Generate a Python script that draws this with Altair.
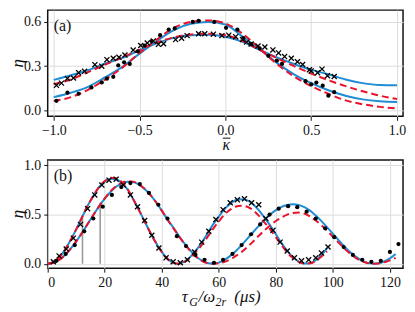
import altair as alt
import pandas as pd

# ---------------- panel (a) ----------------
a_x = [-1.0, -0.9, -0.8, -0.7, -0.6, -0.5, -0.4, -0.3, -0.2, -0.1, 0.0,
       0.1, 0.2, 0.3, 0.4, 0.5, 0.6, 0.7, 0.8, 0.9, 1.0]
a_blue_dots = [0.09, 0.12, 0.16, 0.225, 0.295, 0.385, 0.47, 0.545, 0.587, 0.599, 0.582,
               0.50, 0.415, 0.322, 0.245, 0.185, 0.137, 0.10, 0.075, 0.062, 0.057]
a_red_dots = [0.063, 0.09, 0.14, 0.21, 0.29, 0.39, 0.48, 0.56, 0.60, 0.61, 0.59,
              0.52, 0.42, 0.315, 0.23, 0.165, 0.113, 0.068, 0.042, 0.024, 0.013]
a_blue_cross = [0.207, 0.238, 0.272, 0.318, 0.356, 0.408, 0.455, 0.492, 0.51, 0.513, 0.50,
                0.465, 0.41, 0.36, 0.315, 0.275, 0.245, 0.21, 0.185, 0.172, 0.17]
a_red_cross = [0.178, 0.21, 0.26, 0.31, 0.36, 0.41, 0.46, 0.495, 0.515, 0.52, 0.51,
               0.47, 0.41, 0.355, 0.30, 0.25, 0.205, 0.165, 0.13, 0.10, 0.077]

a_dot_x = [-0.984, -0.92, -0.855, -0.78, -0.72, -0.69, -0.653, -0.624, -0.59, -0.557,
           -0.51, -0.47, -0.43, -0.38, -0.33, -0.295, -0.19, -0.156, -0.065, 0.004,
           0.07, 0.104, 0.15, 0.2, 0.25, 0.30, 0.33, 0.467, 0.50, 0.53, 0.567, 0.60, 0.634]
a_dot_y = [0.065, 0.12, 0.113, 0.156, 0.19, 0.215, 0.228, 0.305, 0.326, 0.315,
           0.40, 0.44, 0.47, 0.51, 0.548, 0.556, 0.60, 0.607, 0.60, 0.56,
           0.548, 0.49, 0.45, 0.42, 0.37, 0.337, 0.315, 0.198, 0.176, 0.189, 0.168, 0.10, 0.124]
a_cross_x = [-0.984, -0.955, -0.92, -0.885, -0.855, -0.82, -0.76, -0.72, -0.69, -0.653,
             -0.62, -0.585, -0.537, -0.493, -0.455, -0.42, -0.39, -0.36, -0.29, -0.255,
             -0.223, -0.156, -0.12, -0.07, -0.02, 0.02, 0.06, 0.10, 0.124, 0.15,
             0.19, 0.23, 0.277, 0.31, 0.345, 0.384, 0.42, 0.45, 0.49, 0.50,
             0.537, 0.563, 0.595, 0.634]
a_cross_y = [0.17, 0.185, 0.217, 0.22, 0.256, 0.265, 0.31, 0.30, 0.344, 0.354,
             0.36, 0.376, 0.409, 0.44, 0.457, 0.47, 0.448, 0.452, 0.48, 0.49,
             0.507, 0.52, 0.52, 0.517, 0.507, 0.51, 0.50, 0.48, 0.463, 0.45,
             0.437, 0.43, 0.41, 0.39, 0.365, 0.354, 0.33, 0.311, 0.276, 0.268,
             0.256, 0.28, 0.235, 0.23]

# ---------------- panel (b) ----------------
b_t_cross = [0, 2, 4, 6, 8, 10, 12, 14, 16, 18, 20, 22, 24, 26, 28, 30, 32, 34, 36, 38,
             40, 42, 44, 46, 48, 50, 52, 54, 56, 58, 60, 62, 64, 66, 68, 70, 72, 74, 76, 78,
             80, 82, 84, 86, 88, 90, 92, 94, 96, 98]
b_blue_cross = [0.0, 0.016, 0.064, 0.14, 0.24, 0.35, 0.47, 0.59, 0.69, 0.78, 0.835, 0.865, 0.86,
                0.82, 0.755, 0.655, 0.545, 0.43, 0.315, 0.21, 0.12, 0.05, 0.01, 0.0, 0.025,
                0.07, 0.135, 0.215, 0.305, 0.40, 0.48, 0.555, 0.61, 0.648, 0.657, 0.645, 0.605,
                0.545, 0.47, 0.39, 0.30, 0.21, 0.13, 0.065, 0.022, 0.002, 0.005, 0.035, 0.09, 0.16]
b_red_cross = [0.0, 0.016, 0.064, 0.14, 0.24, 0.35, 0.47, 0.59, 0.69, 0.78, 0.84, 0.875, 0.87,
               0.83, 0.76, 0.655, 0.545, 0.43, 0.315, 0.21, 0.12, 0.05, 0.01, 0.0, 0.02,
               0.06, 0.12, 0.19, 0.27, 0.355, 0.43, 0.50, 0.55, 0.583, 0.59, 0.58, 0.545,
               0.49, 0.42, 0.35, 0.27, 0.19, 0.115, 0.058, 0.02, 0.002, 0.004, 0.03, 0.075, 0.125]
b_t_dots = [0, 2, 4, 6, 8, 10, 12, 14, 16, 18, 20, 22, 24, 26, 28, 30, 32, 34, 36, 38,
            40, 42, 44, 46, 48, 50, 52, 54, 56, 58, 60, 62, 64, 66, 68, 70, 72, 74, 76, 78,
            80, 82, 84, 86, 88, 90, 92, 94, 96, 98, 100, 102, 104, 106, 108, 110, 112, 114,
            116, 118, 120, 122]
b_blue_dots = [0.0, 0.01, 0.04, 0.087, 0.151, 0.228, 0.313, 0.404, 0.495, 0.583, 0.662, 0.73,
               0.783, 0.818, 0.834, 0.83, 0.805, 0.76, 0.70, 0.625, 0.54, 0.45, 0.37, 0.285,
               0.205, 0.135, 0.075, 0.033, 0.008, 0.0, 0.012, 0.04, 0.08, 0.13, 0.19, 0.255,
               0.32, 0.385, 0.445, 0.50, 0.545, 0.578, 0.598, 0.605, 0.597, 0.575, 0.54, 0.49,
               0.433, 0.37, 0.305, 0.24, 0.177, 0.12, 0.072, 0.035, 0.011, 0.001, 0.005, 0.023,
               0.055, 0.10]
b_red_dots = [0.0, 0.01, 0.04, 0.087, 0.151, 0.228, 0.313, 0.404, 0.495, 0.583, 0.665, 0.735,
              0.788, 0.823, 0.84, 0.835, 0.808, 0.762, 0.70, 0.625, 0.54, 0.45, 0.365, 0.28,
              0.2, 0.13, 0.07, 0.03, 0.007, 0.0, 0.005, 0.02, 0.045, 0.08, 0.12, 0.17,
              0.225, 0.285, 0.34, 0.39, 0.435, 0.47, 0.50, 0.515, 0.52, 0.51, 0.48, 0.44,
              0.39, 0.335, 0.275, 0.215, 0.155, 0.105, 0.06, 0.028, 0.008, 0.0, 0.003, 0.015,
              0.035, 0.06]

b_cross_t = [2, 4, 6.5, 9, 11.5, 14, 16.5, 19, 21.5, 24, 26.5, 29, 31.5, 34, 36.5, 39,
             41.5, 44, 46.5, 49, 51.5, 54, 56.5, 59, 61.5, 64, 66.5, 69, 71.5, 74, 76.5,
             79, 81.5, 84, 86.5, 89, 91.5, 94, 96, 98.3]
b_cross_y = [0.02, 0.08, 0.15, 0.26, 0.40, 0.56, 0.70, 0.80, 0.85, 0.86, 0.80, 0.70, 0.58,
             0.44, 0.29, 0.16, 0.06, 0.02, 0.01, 0.04, 0.12, 0.22, 0.33, 0.45, 0.55, 0.62,
             0.65, 0.66, 0.62, 0.60, 0.46, 0.34, 0.22, 0.13, 0.06, 0.03, 0.04, 0.06, 0.11, 0.17]
b_dot_t = [3, 6.3, 9.5, 12.8, 16, 19.3, 22.5, 25.8, 29, 32.3, 35.5, 38.8, 42, 45.3, 48.5,
           51.8, 55, 58.3, 61.5, 64.8, 68, 71.3, 74.5, 77.8, 81, 84.3, 87.5, 90.8, 94, 97.3,
           100.5, 103.8, 107, 110.3, 113.5, 116.8, 120, 123]
b_dot_y = [0.03, 0.10, 0.19, 0.33, 0.46, 0.58, 0.70, 0.78, 0.82, 0.81, 0.72, 0.60, 0.46,
           0.28, 0.18, 0.09, 0.04, 0.01, 0.04, 0.10, 0.19, 0.30, 0.40, 0.50, 0.56, 0.585,
           0.575, 0.53, 0.46, 0.36, 0.27, 0.17, 0.09, 0.04, 0.02, 0.03, 0.12, 0.20]

gate_t = [12.2, 18.4]
gate_h = [0.47, 0.62]

BLUE = "#1f8dd6"
RED = "#e8132b"
FONT = "Liberation Serif"
INK = "#111"
XSHAPE = "M-1,-1L1,1M-1,1L1,-1"
W = 358
HA = 107
HB = 109


def lines_df(xs, series):
    rows = []
    for name, ys in series.items():
        for x, y in zip(xs, ys):
            rows.append({"x": x, "y": y, "s": name})
    return pd.DataFrame(rows)


def txt(s, x, y, size, style="normal", align="left", baseline="alphabetic", angle=0):
    return alt.Chart(pd.DataFrame({"t": [s]})).mark_text(
        align=align, baseline=baseline, font=FONT, fontSize=size, fontStyle=style,
        color=INK, angle=angle).encode(x=alt.value(x), y=alt.value(y), text="t:N")


def panel(xscale, yscale, xaxis, yaxis, curves_blue, curves_red, dots, crosses, h,
          label, extra=None, deco=None):
    base_x = alt.X("x:Q", scale=xscale, axis=xaxis)
    base_y = alt.Y("y:Q", scale=yscale, axis=yaxis)
    layers = []
    if extra is not None:
        layers.extend(extra)
    layers.append(alt.Chart(curves_blue).mark_line(color=BLUE, strokeWidth=2,
                                                   interpolate="monotone", clip=True)
                  .encode(x=base_x, y=base_y, detail="s:N"))
    layers.append(alt.Chart(curves_red).mark_line(color=RED, strokeWidth=2, strokeDash=[7, 4],
                                                  interpolate="monotone", clip=True)
                  .encode(x=base_x, y=base_y, detail="s:N"))
    layers.append(alt.Chart(dots).mark_point(shape="circle", filled=True, color="black",
                                             size=18, opacity=1)
                  .encode(x=base_x, y=base_y))
    layers.append(alt.Chart(crosses).mark_point(shape=XSHAPE, filled=False, color="black",
                                                size=26, strokeWidth=1.3, opacity=1)
                  .encode(x=base_x, y=base_y))
    layers.append(txt(label, 6, 8, 16, baseline="top"))
    layers.append(txt("η", -30, h / 2, 17, style="italic", align="center",
                      baseline="middle", angle=270))
    if deco is not None:
        layers.extend(deco)
    return alt.layer(*layers).properties(width=W, height=h)


# panel a
a_curves_blue = lines_df(a_x, {"dots": a_blue_dots, "cross": a_blue_cross})
a_curves_red = lines_df(a_x, {"dots": a_red_dots, "cross": a_red_cross})
a_dots = pd.DataFrame({"x": a_dot_x, "y": a_dot_y})
a_cross = pd.DataFrame({"x": a_cross_x, "y": a_cross_y})

kappa_bar = alt.Chart(pd.DataFrame({"k": [0]})).mark_rule(color=INK, strokeWidth=1).encode(
    x=alt.value(176.5), x2=alt.value(184), y=alt.value(129))
pa = panel(
    alt.Scale(domain=[-1.035, 1.035], nice=False, zero=False),
    alt.Scale(domain=[-0.04, 0.68], nice=False, zero=False),
    alt.Axis(values=[-1, -0.5, 0, 0.5, 1], format=".1f", title=None),
    alt.Axis(values=[0, 0.3, 0.6], format=".1f", title=None),
    a_curves_blue, a_curves_red, a_dots, a_cross, HA, "(a)",
    deco=[txt("κ", 180, 141, 16, style="italic", align="center"), kappa_bar])

# panel b
b_curves_blue = pd.concat([
    pd.DataFrame({"x": b_t_cross, "y": b_blue_cross, "s": "cross"}),
    pd.DataFrame({"x": b_t_dots, "y": b_blue_dots, "s": "dots"})])
b_curves_red = pd.concat([
    pd.DataFrame({"x": b_t_cross, "y": b_red_cross, "s": "cross"}),
    pd.DataFrame({"x": b_t_dots, "y": b_red_dots, "s": "dots"})])
b_dots = pd.DataFrame({"x": b_dot_t, "y": b_dot_y})
b_cross = pd.DataFrame({"x": b_cross_t, "y": b_cross_y})

bx = alt.Scale(domain=[0, 124.6], nice=False, zero=False)
by = alt.Scale(domain=[-0.045, 1.055], nice=False, zero=False)
gates = alt.Chart(pd.DataFrame({"x": gate_t, "y0": [0, 0], "y": gate_h})).mark_rule(
    color="#9a9a9a", strokeWidth=1.6).encode(
    x=alt.X("x:Q", scale=bx), y=alt.Y("y0:Q", scale=by), y2="y:Q")

BL = 143
title_b = [
    txt("τ", 135, BL, 17, "italic"),
    txt("G", 142.5, BL + 4, 12, "italic"),
    txt("/ω", 152, BL, 17, "italic"),
    txt("2r", 169, BL + 4, 12, "italic"),
    txt("(μs)", 188, BL, 17, "italic"),
]

pb = panel(
    bx, by,
    alt.Axis(values=[0, 20, 40, 60, 80, 100, 120], format="d", title=None),
    alt.Axis(values=[0, 0.5, 1.0], format=".1f", title=None),
    b_curves_blue, b_curves_red, b_dots, b_cross, HB, "(b)", extra=[gates], deco=title_b)

chart = alt.vconcat(pa, pb, spacing=44, bounds="flush").properties(
    padding={"left": 0, "top": 0, "right": 0, "bottom": 0}
).configure_view(stroke=INK, strokeWidth=1.5).configure_axis(
    labelFont=FONT, labelFontSize=14, labelColor=INK, tickColor=INK, tickSize=4,
    tickWidth=1, domain=False, grid=True, gridColor="#dcdcdc", gridWidth=1,
    labelPadding=3
)

chart.save("out.html", embed_options={"renderer": "svg", "actions": False})
